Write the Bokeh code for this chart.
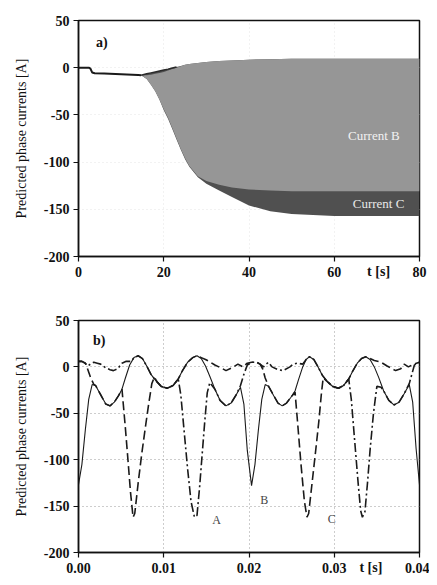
from bokeh.plotting import figure
from bokeh.layouts import column
from bokeh.models import FixedTicker, NumeralTickFormatter, Label, LinearAxis
from bokeh.embed import file_html
from bokeh.resources import INLINE

# ---------------- data: panel a) envelopes over time ----------------
t_pre = [0, 2.4, 2.8, 3.2, 3.8, 6, 10, 14, 14.7]
v_pre = [0, 0, -1, -5, -5.8, -6.2, -7, -7.8, -8]

t_env = [14.7, 16, 17, 18, 19, 20, 21, 22, 23, 24, 25, 26, 28, 30, 33, 36, 40, 45, 50, 60, 70, 80]
b_upper = [-8, -8, -7.5, -6.5, -5.5, -4.5, -3, -1.5, 0, 1.5, 3, 4, 5, 6, 7, 7.5, 8.5, 9, 9.5, 9.5, 9.5, 9.5]
b_lower = [-8, -12, -18, -25, -34, -44, -53, -64, -75, -86, -96, -104, -115, -120, -124, -127, -129, -130, -131, -131, -131, -131]
c_upper = [-8, -6.5, -5.5, -4.5, -3.5, -2.5, -1.5, -0.3, 0.8, 1.8, 3, 4, 5, 6, 7, 7.5, 8.5, 9, 9.5, 9.5, 9.5, 9.5]
c_lower = [-8, -12, -18, -25, -34, -45, -54, -65, -76, -87, -97, -105, -116, -123, -130, -137, -146, -152, -155, -157, -157, -157]

# ---------------- data: panel b) phase currents ----------------
curB = [(0.0000, -127), (0.0004, -105), (0.0008, -68), (0.0012, -35), (0.0016, -19), (0.0020, -20),
        (0.0026, -30), (0.0032, -40), (0.0037, -42), (0.0042, -38), (0.0047, -31), (0.0051, -24),
        (0.0055, -12), (0.0060, 2), (0.0065, 10), (0.0070, 12), (0.0075, 9), (0.0080, 1),
        (0.0085, -8), (0.0090, -14), (0.0097, -21), (0.0104, -23), (0.0111, -20), (0.0117, -13),
        (0.0122, -4), (0.0128, 5), (0.0134, 10), (0.0139, 12), (0.0144, 9), (0.0149, 1),
        (0.0154, -10), (0.0160, -24), (0.0166, -36), (0.0173, -42), (0.0179, -39), (0.0185, -30),
        (0.0190, -22), (0.0194, -40), (0.0198, -90), (0.0203, -128), (0.0207, -105), (0.0211, -68),
        (0.0215, -35), (0.0219, -19), (0.0223, -21), (0.0229, -31), (0.0234, -39), (0.0239, -42),
        (0.0244, -39), (0.0249, -33), (0.0254, -26), (0.0258, -14), (0.0263, 0), (0.0267, 8),
        (0.0271, 11), (0.0276, 8), (0.0281, 0), (0.0286, -9), (0.0292, -16), (0.0298, -21),
        (0.0305, -23), (0.0311, -20), (0.0317, -13), (0.0322, -4), (0.0327, 4), (0.0332, 9),
        (0.0337, 11), (0.0342, 8), (0.0347, 0), (0.0352, -11), (0.0358, -26), (0.0364, -36),
        (0.0370, -41), (0.0376, -38), (0.0382, -29), (0.0388, -19), (0.0392, -38), (0.0396, -88),
        (0.0400, -127)]

curC = [(0.0000, 6), (0.0004, 6), (0.0008, 4), (0.0011, -3), (0.0014, -11), (0.0018, -19),
        (0.0020, -20), (0.0026, -30), (0.0032, -40), (0.0037, -42), (0.0042, -38), (0.0047, -31),
        (0.0051, -24), (0.0055, -66), (0.0058, -100), (0.0061, -135), (0.0064, -162), (0.0066, -158),
        (0.0070, -125), (0.0074, -95), (0.0078, -68), (0.0082, -42), (0.0086, -18), (0.0089, -11),
        (0.0092, -16), (0.0097, -21), (0.0104, -23), (0.0111, -20), (0.0117, -13), (0.0122, -4),
        (0.0128, 5), (0.0134, 10), (0.0139, 12), (0.0144, 10), (0.0149, 8), (0.0153, 6),
        (0.0160, 2), (0.0167, -1), (0.0173, -4), (0.0180, -1), (0.0187, 3), (0.0193, 0),
        (0.0198, 4), (0.0203, 5), (0.0209, 5), (0.0213, 3), (0.0216, -2), (0.0219, -12),
        (0.0223, -21), (0.0229, -31), (0.0234, -39), (0.0239, -42), (0.0244, -39), (0.0249, -33),
        (0.0254, -27), (0.0257, -60), (0.0261, -105), (0.0265, -145), (0.0268, -162), (0.0270, -158),
        (0.0274, -125), (0.0278, -92), (0.0282, -58), (0.0285, -28), (0.0287, -12), (0.0291, -15),
        (0.0298, -21), (0.0305, -23), (0.0311, -20), (0.0317, -13), (0.0322, -4), (0.0327, 4),
        (0.0332, 9), (0.0337, 11), (0.0342, 9), (0.0347, 7), (0.0355, 5), (0.0362, 1),
        (0.0372, -4), (0.0378, -2), (0.0382, 3), (0.0387, 0), (0.0393, 3), (0.0400, 5)]

curA = [(0.0000, 6), (0.0004, 6), (0.0008, 4), (0.0011, 1), (0.0014, 3), (0.0018, 5),
        (0.0022, 4), (0.0026, 3), (0.0032, -1), (0.0037, -3), (0.0041, -4), (0.0046, -2),
        (0.0051, 4), (0.0056, 6), (0.0062, 6), (0.0065, 10), (0.0070, 12), (0.0075, 9),
        (0.0080, 1), (0.0085, -8), (0.0090, -14), (0.0097, -21), (0.0104, -23), (0.0111, -20),
        (0.0117, -13), (0.0120, -30), (0.0124, -70), (0.0128, -110), (0.0132, -145), (0.0136, -162),
        (0.0139, -160), (0.0142, -130), (0.0145, -95), (0.0148, -60), (0.0151, -28), (0.0154, -17),
        (0.0160, -24), (0.0166, -36), (0.0173, -42), (0.0179, -39), (0.0185, -30), (0.0190, -20),
        (0.0194, -8), (0.0198, 2), (0.0203, 5), (0.0209, 5), (0.0213, 3), (0.0217, 0),
        (0.0220, 3), (0.0223, 5), (0.0227, 0), (0.0234, -3), (0.0240, -4), (0.0248, 0),
        (0.0252, 3), (0.0257, 4), (0.0263, 3), (0.0267, 8), (0.0271, 11), (0.0276, 8),
        (0.0281, 0), (0.0286, -9), (0.0292, -16), (0.0298, -21), (0.0305, -23), (0.0311, -20),
        (0.0317, -13), (0.0320, -35), (0.0324, -80), (0.0328, -125), (0.0331, -155), (0.0333, -162),
        (0.0336, -156), (0.0339, -125), (0.0342, -90), (0.0346, -50), (0.0350, -21), (0.0355, -22),
        (0.0358, -26), (0.0364, -36), (0.0370, -41), (0.0376, -38), (0.0382, -29), (0.0388, -18),
        (0.0391, -8), (0.0394, 2), (0.0397, 4), (0.0400, 5)]

y_ticks = [-200, -150, -100, -50, 0, 50]
xa_ticks = [0, 20, 40, 60, 80]
xa_fmt = "0"
xa_unit_pos = 70.4
xb_ticks = [0, 0.01, 0.02, 0.03, 0.04]
xb_fmt = "0.00"
xb_unit_pos = 0.0343
unit_text = "t [s]"

SERIF = "Liberation Serif"
INK = "#111111"


def style(p, xticks, xfmt, unit_pos):
    p.xaxis.ticker = FixedTicker(ticks=xticks)
    p.xaxis.formatter = NumeralTickFormatter(format=xfmt)
    p.yaxis.ticker = FixedTicker(ticks=y_ticks)
    p.yaxis.formatter = NumeralTickFormatter(format="0")
    for ax in (p.xaxis, p.yaxis):
        ax.axis_line_color = INK
        ax.axis_line_width = 1.5
        ax.major_tick_line_color = INK
        ax.major_tick_line_width = 1.2
        ax.major_tick_out = 5
        ax.major_tick_in = 0
        ax.minor_tick_line_color = None
        ax.major_label_text_font = SERIF
        ax.major_label_text_font_style = "bold"
        ax.major_label_text_font_size = "14px"
        ax.major_label_text_color = INK
    p.xaxis.major_label_standoff = 5
    p.yaxis.major_label_standoff = 4
    p.yaxis.axis_label = "Predicted phase currents [A]"
    p.yaxis.axis_label_text_font = SERIF
    p.yaxis.axis_label_text_font_style = "normal"
    p.yaxis.axis_label_text_font_size = "14px"
    p.yaxis.axis_label_text_color = INK
    p.yaxis.axis_label_standoff = 12
    # second x axis carrying only the unit text, pulled up onto the tick-label line
    unit_axis = LinearAxis(ticker=FixedTicker(ticks=[unit_pos]),
                           major_label_overrides={unit_pos: unit_text},
                           axis_line_color=None, major_tick_line_color=None,
                           minor_tick_line_color=None, major_tick_out=0, major_tick_in=0,
                           major_label_standoff=-16,
                           major_label_text_font=SERIF, major_label_text_font_style="bold",
                           major_label_text_font_size="14px", major_label_text_color=INK)
    p.add_layout(unit_axis, "below")
    p.outline_line_color = INK
    p.outline_line_width = 1.5
    p.background_fill_color = "white"
    p.border_fill_color = "white"


# ---------------- panel a) ----------------
p1 = figure(width=429, height=285, x_range=(0, 80), y_range=(-200, 50),
            output_backend="svg", toolbar_location=None,
            min_border_left=78, min_border_right=8, min_border_top=20, min_border_bottom=29)
style(p1, xa_ticks, xa_fmt, xa_unit_pos)
p1.grid.grid_line_color = "#e4e4e4"
p1.grid.grid_line_dash = "1 3"

p1.varea(x=t_env, y1=c_lower, y2=c_upper, fill_color="#505050")
p1.varea(x=t_env, y1=b_lower, y2=b_upper, fill_color="#969696")
p1.line(t_pre, v_pre, line_color="#1a1a1a", line_width=2)
p1.line(t_env[:9], c_upper[:9], line_color="#2a2a2a", line_width=1.5)

p1.add_layout(Label(x=69.3, y=-72, text="Current B", text_font=SERIF, text_font_size="13px",
                    text_color="#f2f2f2", text_align="center", text_baseline="middle"))
p1.add_layout(Label(x=70.4, y=-144, text="Current C", text_font=SERIF, text_font_size="13px",
                    text_color="#e8e8e8", text_align="center", text_baseline="middle"))
p1.add_layout(Label(x=4.1, y=27, text="a)", text_font=SERIF, text_font_size="14px",
                    text_font_style="bold", text_color=INK, text_baseline="middle"))

# ---------------- panel b) ----------------
p2 = figure(width=429, height=292, x_range=(0, 0.04), y_range=(-200, 50),
            output_backend="svg", toolbar_location=None,
            min_border_left=76, min_border_right=10, min_border_top=35, min_border_bottom=24)
style(p2, xb_ticks, xb_fmt, xb_unit_pos)
p2.grid.grid_line_color = "#9a9a9a"
p2.grid.grid_line_dash = "1 3"
p2.grid.grid_line_width = 1

tB, vB = zip(*curB)
tC, vC = zip(*curC)
tA, vA = zip(*curA)
p2.line(list(tB), list(vB), line_color="#1a1a1a", line_width=1.1)
p2.line(list(tC), list(vC), line_color="#1a1a1a", line_width=1.6, line_dash="9 4")
p2.line(list(tA), list(vA), line_color="#1a1a1a", line_width=1.6, line_dash="9 3 2 3")

for txt, xx, yy in (("A", 0.0162, -165), ("B", 0.0218, -143), ("C", 0.0297, -164)):
    p2.add_layout(Label(x=xx, y=yy, text=txt, text_font=SERIF, text_font_size="12px",
                        text_color="#444444", text_align="center", text_baseline="middle"))
p2.add_layout(Label(x=0.0017, y=28, text="b)", text_font=SERIF, text_font_size="14px",
                    text_font_style="bold", text_color=INK, text_baseline="middle"))

layout = column(p1, p2, spacing=0)
open("out.html", "w").write(file_html(layout, INLINE))
